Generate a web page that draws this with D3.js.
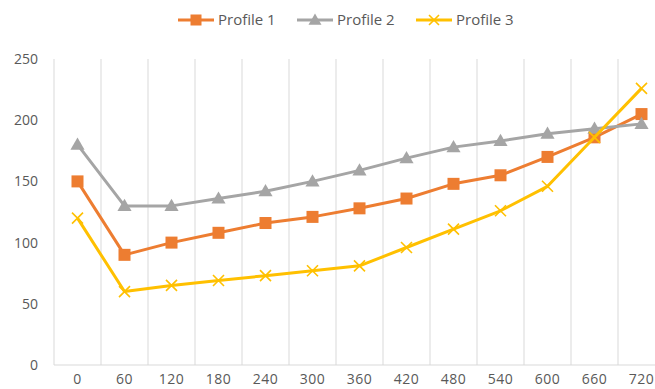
<!DOCTYPE html>
<html>
<head>
<meta charset="utf-8">
<script src="https://cdn.jsdelivr.net/npm/d3@7"></script>
<style>
  html, body { margin: 0; padding: 0; background: #fff; overflow: hidden; }
  svg { display: block; font-family: "Open Sans", sans-serif; }
</style>
</head>
<body>
<svg id="chart" width="655" height="389"></svg>
<script>
// Time points (minutes) along the x axis
const categories = ["0", "60", "120", "180", "240", "300", "360", "420", "480", "540", "600", "660", "720"];
const seriesNames = ["Profile 1", "Profile 2", "Profile 3"];
const profile1 = [150, 90, 100, 108, 116, 121, 128, 136, 148, 155, 170, 186, 205];
const profile2 = [180, 130, 130, 136, 142, 150, 159, 169, 178, 183, 189, 193, 197];
const profile3 = [120, 60, 65, 69, 73, 77, 81, 96, 111, 126, 146, 186, 226];
const yTicks = [0, 50, 100, 150, 200, 250];

const colors = ["#ED7D31", "#A5A5A5", "#FFC000"];
const markers = ["square", "triangle", "cross"];
const seriesValues = [profile1, profile2, profile3];

const svg = d3.select("#chart");
const plotLeft = 54, plotRight = 665, plotTop = 59, plotBottom = 365;

const x = d3.scaleBand().domain(categories).range([plotLeft, plotRight]);
const y = d3.scaleLinear().domain([0, 250]).range([plotBottom, plotTop]);
const cx = c => x(c) + x.bandwidth() / 2;

// Vertical gridlines on category boundaries
const bounds = categories.map(c => x(c)).concat([plotRight]);
svg.append("g").selectAll("line").data(bounds).join("line")
  .attr("x1", d => d).attr("x2", d => d)
  .attr("y1", plotTop).attr("y2", plotBottom)
  .attr("stroke", "#D9D9D9").attr("stroke-width", 1);

// Baseline
svg.append("line")
  .attr("x1", plotLeft).attr("x2", plotRight)
  .attr("y1", y(0)).attr("y2", y(0))
  .attr("stroke", "#D9D9D9").attr("stroke-width", 1);

// Y axis labels
const yAxis = d3.axisLeft(y).tickValues(yTicks).tickSize(0).tickPadding(0);
svg.append("g").attr("transform", "translate(38,0)").call(yAxis)
  .call(g => g.select(".domain").remove())
  .call(g => g.selectAll("text").attr("fill", "#595959").attr("font-size", 14)
    .attr("font-family", "Open Sans, sans-serif"));

// X axis labels
const xAxis = d3.axisBottom(x).tickSize(0).tickPadding(0);
svg.append("g").attr("transform", `translate(0,${plotBottom + 9})`).call(xAxis)
  .call(g => g.select(".domain").remove())
  .call(g => g.selectAll("text").attr("fill", "#595959").attr("font-size", 14)
    .attr("letter-spacing", "0.5px")
    .attr("font-family", "Open Sans, sans-serif"));

function drawMarker(g, type, color, size) {
  if (type === "square") {
    g.append("rect").attr("x", -size / 2).attr("y", -size / 2)
      .attr("width", size).attr("height", size).attr("fill", color);
  } else if (type === "triangle") {
    g.append("path").attr("d", d3.symbol(d3.symbolTriangle, size * size * 0.6)())
      .attr("fill", color).attr("transform", "translate(0,1)");
  } else {
    const h = size / 2;
    g.append("path").attr("d", `M${-h},${-h}L${h},${h}M${-h},${h}L${h},${-h}`)
      .attr("stroke", color).attr("stroke-width", 1.6).attr("fill", "none");
  }
}

const line = d3.line().x((d, i) => cx(categories[i])).y(d => y(d));

seriesValues.forEach((vals, s) => {
  const g = svg.append("g");
  g.append("path").datum(vals).attr("d", line)
    .attr("fill", "none").attr("stroke", colors[s]).attr("stroke-width", 3)
    .attr("stroke-linejoin", "round");
  vals.forEach((v, i) => {
    const m = g.append("g").attr("transform", `translate(${cx(categories[i])},${y(v)})`);
    drawMarker(m, markers[s], colors[s], markers[s] === "cross" ? 11 : 12);
  });
});

// Legend
const legendX = [178, 297, 416];
seriesNames.forEach((name, s) => {
  const g = svg.append("g").attr("transform", `translate(${legendX[s]},20)`);
  g.append("line").attr("x1", 0).attr("x2", 36).attr("y1", 0).attr("y2", 0)
    .attr("stroke", colors[s]).attr("stroke-width", 3);
  const m = g.append("g").attr("transform", "translate(18,0)");
  drawMarker(m, markers[s], colors[s], markers[s] === "cross" ? 10 : 11);
  g.append("text").attr("x", 40).attr("y", 0).attr("dy", "0.35em")
    .attr("fill", "#595959").attr("font-size", 15).text(name);
});
</script>
</body>
</html>
